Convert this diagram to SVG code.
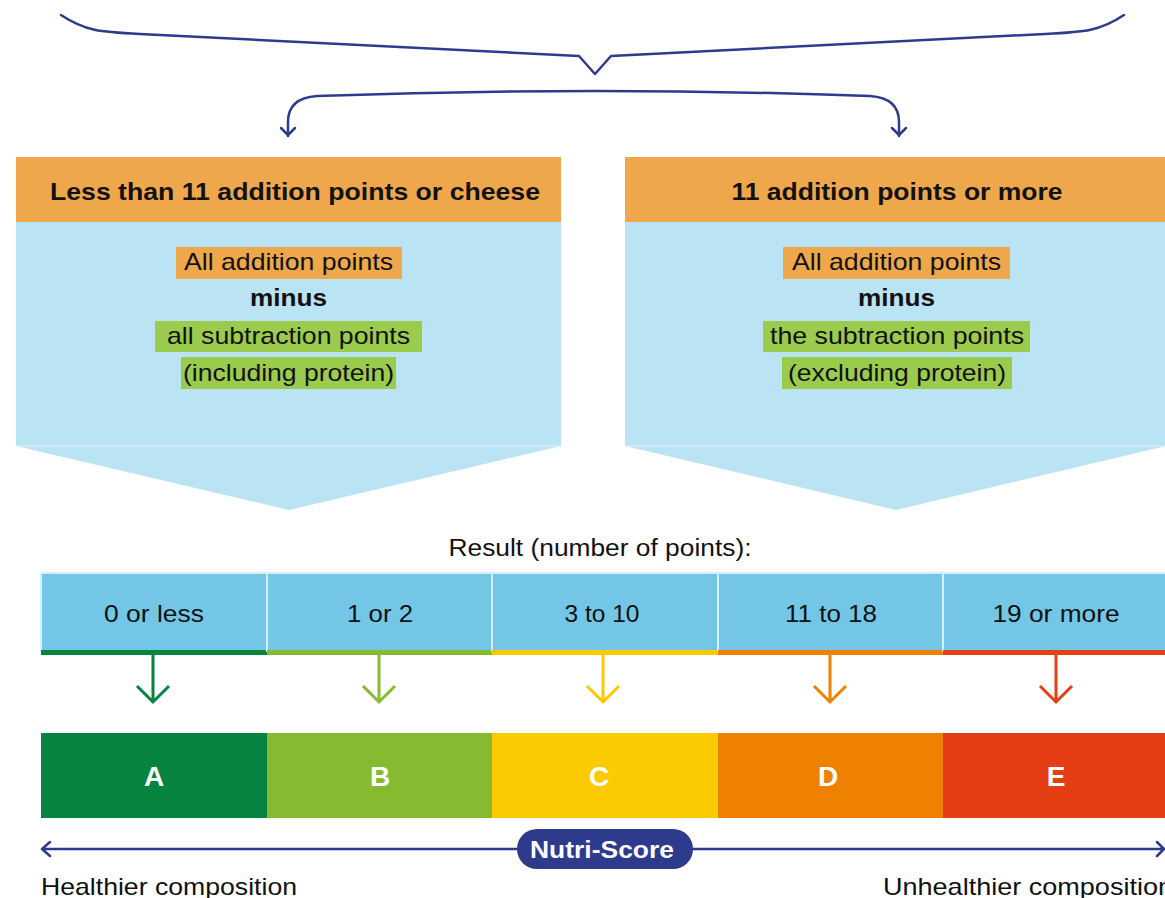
<svg xmlns="http://www.w3.org/2000/svg" width="1165" height="898" viewBox="0 0 1165 898">
<style>
.t{font-family:"Liberation Sans",Arial,sans-serif;fill:#111}
.hd{font-size:24px;font-weight:bold;text-anchor:middle}
.bd{font-size:24px;text-anchor:middle}
.b{font-weight:bold}
.res{font-size:24px;text-anchor:middle}
.grade{font-family:"Liberation Sans",Arial,sans-serif;font-size:28px;font-weight:bold;fill:#fff;text-anchor:middle}
.navy{fill:none;stroke:#2E3A8C;stroke-width:2.5;stroke-linecap:round;stroke-linejoin:round}
.orange{fill:#EFA74B}
.body{fill:#BAE3F3}
.green{fill:#9BCB4C}
.seg{fill:#73C6E5;stroke:#D6EEF8;stroke-width:2}
</style>
<rect width="1165" height="898" fill="#fff"/>
<g id="connectors">
  <path class="navy" d="M61,15 C85,31 100,32 140,34 L579,56 L595,74 L611,56 L1045,34 C1085,32 1100,31 1124,15"/>
  <path class="navy" d="M288,136 L288,122 Q288,98 317,96 Q595,86 870,96 Q899,98 899,122 L899,136"/>
  <path class="navy" d="M281,128 L288,135 L295,128"/>
  <path class="navy" d="M892,128 L899,135 L906,128"/>
  <g stroke-width="3" fill="none">
    <path stroke="#06833F" d="M153,655 V702 M137,686 L153,702 L169,686"/>
    <path stroke="#86BB31" d="M379,655 V702 M363,686 L379,702 L395,686"/>
    <path stroke="#FCC900" d="M603,655 V702 M587,686 L603,702 L619,686"/>
    <path stroke="#EE8100" d="M830,655 V702 M814,686 L830,702 L846,686"/>
    <path stroke="#E53F14" d="M1056,655 V702 M1040,686 L1056,702 L1072,686"/>
  </g>
  <path class="navy" d="M42,849 H1164 M50,842 L42,849 L50,856 M1157,842 L1164,849 L1157,856"/>
</g>
<g id="left-branch">
  <rect class="orange" x="16" y="157" width="545" height="65"/>
  <path class="body" d="M16,222 H561 V446 L289,510 L16,446 Z"/>
  <line x1="16" y1="446" x2="561" y2="446" stroke="#E2F3FA" stroke-width="1"/>
  <text class="t hd" x="295" y="200" textLength="490" lengthAdjust="spacingAndGlyphs">Less than 11 addition points or cheese</text>
  <rect class="orange" x="176" y="247" width="226" height="32"/>
  <text class="t bd" x="288.5" y="270" textLength="209" lengthAdjust="spacingAndGlyphs">All addition points</text>
  <text class="t bd b" x="288.5" y="306" textLength="77" lengthAdjust="spacingAndGlyphs">minus</text>
  <rect class="green" x="155" y="321" width="267" height="31"/>
  <text class="t bd" x="288.5" y="344" textLength="243" lengthAdjust="spacingAndGlyphs">all subtraction points</text>
  <rect class="green" x="181" y="357" width="215" height="32"/>
  <text class="t bd" x="288.5" y="381" textLength="211" lengthAdjust="spacingAndGlyphs">(including protein)</text>
</g>
<g id="right-branch">
  <rect class="orange" x="625" y="157" width="541" height="65"/>
  <path class="body" d="M625,222 H1166 V446 L896,510 L625,446 Z"/>
  <line x1="625" y1="446" x2="1165" y2="446" stroke="#E2F3FA" stroke-width="1"/>
  <text class="t hd" x="897" y="200" textLength="331" lengthAdjust="spacingAndGlyphs">11 addition points or more</text>
  <rect class="orange" x="783" y="247" width="227" height="32"/>
  <text class="t bd" x="896.5" y="270" textLength="209" lengthAdjust="spacingAndGlyphs">All addition points</text>
  <text class="t bd b" x="896.5" y="306" textLength="77" lengthAdjust="spacingAndGlyphs">minus</text>
  <rect class="green" x="763" y="321" width="267" height="31"/>
  <text class="t bd" x="897" y="344" textLength="254" lengthAdjust="spacingAndGlyphs">the subtraction points</text>
  <rect class="green" x="782" y="357" width="230" height="32"/>
  <text class="t bd" x="897" y="381" textLength="218" lengthAdjust="spacingAndGlyphs">(excluding protein)</text>
</g>
<g id="result-title">
  <text class="t" x="600" y="556" font-size="23" text-anchor="middle" textLength="303" lengthAdjust="spacingAndGlyphs">Result (number of points):</text>
</g>
<g id="result-0">
  <rect class="seg" x="41" y="573" width="226" height="78"/>
  <rect x="41" y="650" width="226" height="5" fill="#06833F"/>
  <text class="t res" x="154" y="622" textLength="100" lengthAdjust="spacingAndGlyphs">0 or less</text>
</g>
<g id="result-1">
  <rect class="seg" x="267" y="573" width="225" height="78"/>
  <rect x="267" y="650" width="225" height="5" fill="#86BB31"/>
  <text class="t res" x="380" y="622" textLength="66" lengthAdjust="spacingAndGlyphs">1 or 2</text>
</g>
<g id="result-2">
  <rect class="seg" x="492" y="573" width="226" height="78"/>
  <rect x="492" y="650" width="226" height="5" fill="#FCC900"/>
  <text class="t res" x="602" y="622" textLength="75" lengthAdjust="spacingAndGlyphs">3 to 10</text>
</g>
<g id="result-3">
  <rect class="seg" x="718" y="573" width="225" height="78"/>
  <rect x="718" y="650" width="225" height="5" fill="#EE8100"/>
  <text class="t res" x="831" y="622" textLength="92" lengthAdjust="spacingAndGlyphs">11 to 18</text>
</g>
<g id="result-4">
  <rect class="seg" x="943" y="573" width="224" height="78"/>
  <rect x="943" y="650" width="222" height="5" fill="#E53F14"/>
  <text class="t res" x="1056" y="622" textLength="127" lengthAdjust="spacingAndGlyphs">19 or more</text>
</g>
<g id="grade-A"><rect x="41" y="733" width="226" height="85" fill="#06833F"/><text class="grade" x="154" y="786">A</text></g>
<g id="grade-B"><rect x="267" y="733" width="225" height="85" fill="#86BB31"/><text class="grade" x="380" y="786">B</text></g>
<g id="grade-C"><rect x="492" y="733" width="226" height="85" fill="#FCCA00"/><text class="grade" x="599" y="786">C</text></g>
<g id="grade-D"><rect x="718" y="733" width="225" height="85" fill="#EE8100"/><text class="grade" x="828" y="786">D</text></g>
<g id="grade-E"><rect x="943" y="733" width="222" height="85" fill="#E53E14"/><text class="grade" x="1056" y="786">E</text></g>
<g id="nutri-score">
  <rect x="517" y="829" width="176" height="40" rx="20" fill="#2E3A8C"/>
  <text x="602" y="858" font-family="'Liberation Sans',Arial,sans-serif" font-size="24" font-weight="bold" fill="#fff" text-anchor="middle" textLength="144" lengthAdjust="spacingAndGlyphs">Nutri-Score</text>
</g>
<g id="scale-labels">
  <text class="t" x="41" y="895" font-size="24" textLength="256" lengthAdjust="spacingAndGlyphs">Healthier composition</text>
  <text class="t" x="883" y="895" font-size="24" textLength="290" lengthAdjust="spacingAndGlyphs">Unhealthier composition</text>
</g>
</svg>
